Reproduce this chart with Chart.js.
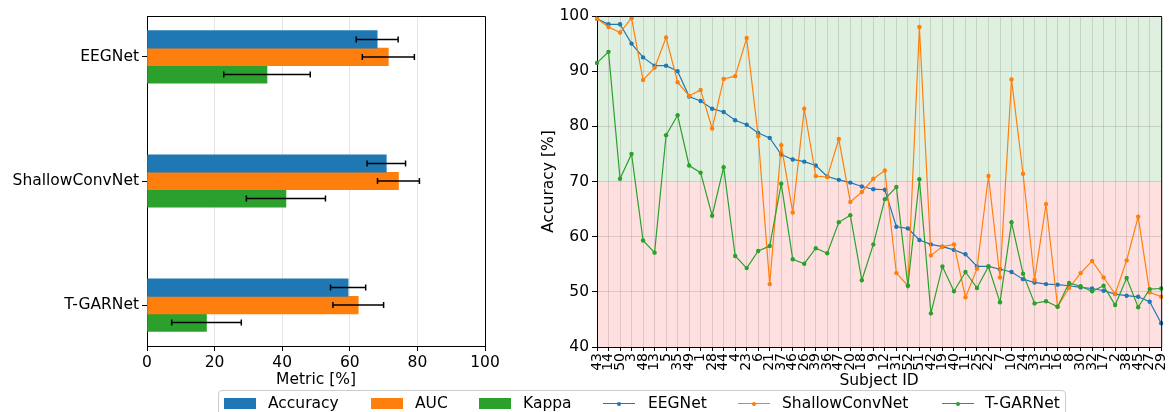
<!DOCTYPE html>
<html>
<head>
<meta charset="utf-8">
<script src="https://cdn.jsdelivr.net/npm/chart.js@4/dist/chart.umd.min.js"></script>
<style>
html, body { margin: 0; padding: 0; background: #fff; width: 1170px; height: 412px; overflow: hidden; }
#left { position: absolute; left: 0; top: 0; width: 540px; height: 392px; }
#right { position: absolute; left: 536px; top: 0; width: 644px; height: 392px; }
#legend { position: absolute; left: 218px; top: 390px; width: 846px; height: 40px;
  border: 1px solid #ccc; border-radius: 4px; font-family: 'DejaVu Sans'; font-size: 15.5px; }
#legend .t { position: absolute; top: 3px; line-height: 18px; color: #000; white-space: nowrap; }
#legend .p { position: absolute; top: 7px; width: 32px; height: 11px; }
#legend .l { position: absolute; top: 12px; width: 32px; height: 1.2px; }
#legend .l i { position: absolute; left: 14px; top: -1.5px; width: 4px; height: 4px; border-radius: 2px; background: inherit; }
</style>
</head>
<body>
<div id="left"><canvas id="barChart"></canvas></div>
<div id="right"><canvas id="lineChart"></canvas></div>
<div id="legend">
  <span class="p" style="left:5px;background:#1f77b4"></span><span class="t" style="left:49px">Accuracy</span>
  <span class="p" style="left:152px;background:#ff7f0e"></span><span class="t" style="left:196px">AUC</span>
  <span class="p" style="left:260px;background:#2ca02c"></span><span class="t" style="left:304px">Kappa</span>
  <span class="l" style="left:384px;background:#1f77b4"><i></i></span><span class="t" style="left:429px">EEGNet</span>
  <span class="l" style="left:519px;background:#ff7f0e"><i></i></span><span class="t" style="left:563px">ShallowConvNet</span>
  <span class="l" style="left:723px;background:#2ca02c"><i></i></span><span class="t" style="left:766px">T-GARNet</span>
</div>
<script>
// Mean +- std per model (left panel)
const models = ['EEGNet', 'ShallowConvNet', 'T-GARNet'];
const accMean = [68.1, 70.8, 59.5];
const accStd = [6.2, 5.7, 5.2];
const aucMean = [71.4, 74.4, 62.5];
const aucStd = [7.7, 6.2, 7.5];
const kappaMean = [35.5, 41.1, 17.6];
const kappaStd = [12.8, 11.7, 10.3];
const metricTicks = [0, 20, 40, 60, 80, 100];

// Per-subject accuracy (right panel), sorted by EEGNet
const subjects = ['43', '14', '50', '3', '48', '13', '5', '35', '49', '1',
    '28', '44', '4', '23', '6', '21', '37', '46', '26', '39',
    '36', '47', '20', '18', '9', '12', '31', '52', '51', '42',
    '19', '40', '11', '25', '22', '7', '10', '24', '33', '15',
    '16', '8', '30', '32', '17', '2', '38', '45', '27', '29'];
const eegnet = [99.5, 98.5, 98.5, 95.0, 92.5, 91.0, 91.0, 90.0, 85.4, 84.6,
    83.2, 82.6, 81.1, 80.3, 78.8, 77.9, 74.9, 74.0, 73.6, 72.9,
    70.9, 70.3, 69.8, 69.1, 68.6, 68.5, 61.8, 61.5, 59.4, 58.6,
    58.2, 57.6, 56.8, 54.6, 54.6, 54.1, 53.6, 52.3, 51.7, 51.4,
    51.3, 51.1, 50.8, 50.6, 50.2, 49.6, 49.3, 49.1, 48.2, 44.3];
const shallow = [99.5, 98.0, 97.0, 99.6, 88.4, 90.6, 96.1, 88.0, 85.5, 86.6,
    79.6, 88.6, 89.1, 96.0, 78.2, 51.4, 76.6, 64.4, 83.2, 71.0,
    70.8, 77.7, 66.3, 68.1, 70.5, 72.0, 53.4, 51.1, 98.0, 56.6,
    58.2, 58.6, 49.0, 54.2, 71.0, 52.6, 88.5, 71.4, 52.2, 65.9,
    47.3, 50.7, 53.4, 55.6, 52.6, 49.6, 55.7, 63.6, 49.9, 49.1];
const tgarnet = [91.5, 93.5, 70.5, 75.0, 59.3, 57.1, 78.4, 82.0, 72.9, 71.6,
    63.8, 72.6, 56.5, 54.3, 57.4, 58.3, 69.6, 55.9, 55.1, 57.9,
    57.0, 62.6, 63.9, 52.1, 58.6, 66.8, 69.0, 51.1, 70.4, 46.1,
    54.6, 50.1, 53.6, 50.7, 54.6, 48.1, 62.6, 53.3, 47.9, 48.3,
    47.3, 51.6, 51.0, 50.1, 51.1, 47.6, 52.5, 47.2, 50.5, 50.6];
const accTicks = [40, 50, 60, 70, 80, 90, 100];
const passLine = 70;

Chart.defaults.font.family = 'DejaVu Sans';
Chart.defaults.font.size = 15.5;
Chart.defaults.color = '#000';

const font = { family: 'DejaVu Sans', size: 15.5 };

// top/right spines like matplotlib
const frame = {
    id: 'frame',
    afterDraw(chart) {
        const { ctx, chartArea: a } = chart;
        ctx.save();
        ctx.strokeStyle = '#000';
        ctx.lineWidth = 1;
        ctx.beginPath();
        ctx.moveTo(a.left, a.top + 0.5);
        ctx.lineTo(a.right + 0.5, a.top + 0.5);
        ctx.lineTo(a.right + 0.5, a.bottom);
        ctx.stroke();
        ctx.restore();
    }
};

const errorBars = {
    id: 'errorBars',
    afterDatasetsDraw(chart) {
        const { ctx, scales: { x } } = chart;
        ctx.save();
        ctx.strokeStyle = '#000';
        ctx.lineWidth = 1.5;
        chart.data.datasets.forEach((ds, d) => {
            chart.getDatasetMeta(d).data.forEach((bar, i) => {
                const v = ds.data[i].x, s = ds.std[i];
                const x0 = x.getPixelForValue(v - s), x1 = x.getPixelForValue(v + s);
                ctx.beginPath();
                ctx.moveTo(x0, bar.y); ctx.lineTo(x1, bar.y);
                ctx.moveTo(x0, bar.y - 3); ctx.lineTo(x0, bar.y + 3);
                ctx.moveTo(x1, bar.y - 3); ctx.lineTo(x1, bar.y + 3);
                ctx.stroke();
            });
        });
        ctx.restore();
    }
};

const bands = {
    id: 'bands',
    beforeDraw(chart) {
        const { ctx, chartArea: a, scales: { y } } = chart;
        const yp = y.getPixelForValue(passLine);
        ctx.save();
        ctx.fillStyle = 'rgba(0,128,0,0.12)';
        ctx.fillRect(a.left, a.top, a.right - a.left, yp - a.top);
        ctx.fillStyle = 'rgba(255,0,0,0.12)';
        ctx.fillRect(a.left, yp, a.right - a.left, a.bottom - yp);
        ctx.restore();
    }
};

const toPoints = arr => arr.map((v, i) => ({ x: v, y: i }));
const setModelRange = s => { s.min = -0.33; s.max = models.length - 1 + 0.33; };

new Chart(document.getElementById('barChart'), {
    type: 'bar',
    data: {
        datasets: [
            { label: 'Accuracy', data: toPoints(accMean), std: accStd, backgroundColor: '#1f77b4' },
            { label: 'AUC', data: toPoints(aucMean), std: aucStd, backgroundColor: '#ff7f0e' },
            { label: 'Kappa', data: toPoints(kappaMean), std: kappaStd, backgroundColor: '#2ca02c' }
        ]
    },
    options: {
        indexAxis: 'y',
        responsive: true,
        maintainAspectRatio: false,
        animation: false,
        layout: { padding: { top: 16, right: 55, left: 0, bottom: 0 } },
        datasets: { bar: { barThickness: 17.5 } },
        plugins: { legend: { display: false }, tooltip: { enabled: false } },
        scales: {
            x: {
                type: 'linear', min: 0, max: 100,
                afterBuildTicks: s => { s.ticks = metricTicks.map(v => ({ value: v })); },
                ticks: { font, color: '#000', padding: 3 },
                grid: { color: 'rgba(0,0,0,0.1)', tickColor: '#000', tickLength: 5 },
                border: { color: '#000' },
                title: { display: true, text: 'Metric [%]', font, color: '#000', padding: { top: 0, bottom: 3 } },
                afterFit: s => { s.height = 46; }
            },
            y: {
                type: 'linear', reverse: true, offset: false,
                afterDataLimits: setModelRange,
                afterBuildTicks: s => {
                    s.ticks = models.map((m, i) => ({ value: i }));
                    setModelRange(s);
                },
                ticks: { font, color: '#000', padding: 3, callback: v => models[v] },
                grid: { offset: false, drawOnChartArea: false, tickColor: '#000', tickLength: 5 },
                border: { color: '#000' },
                afterFit: s => { s.width = 147; }
            }
        }
    },
    plugins: [errorBars, frame]
});

const lineStyle = c => ({
    borderColor: c, backgroundColor: c, borderWidth: 1.2,
    pointRadius: 2.2, pointBorderWidth: 0, pointHoverRadius: 2.2, tension: 0
});

new Chart(document.getElementById('lineChart'), {
    type: 'line',
    data: {
        labels: subjects,
        datasets: [
            { label: 'EEGNet', data: eegnet, order: 3, ...lineStyle('#1f77b4') },
            { label: 'ShallowConvNet', data: shallow, order: 2, ...lineStyle('#ff7f0e') },
            { label: 'T-GARNet', data: tgarnet, order: 1, ...lineStyle('#2ca02c') }
        ]
    },
    options: {
        responsive: true,
        maintainAspectRatio: false,
        animation: false,
        layout: { padding: { top: 16, right: 10, left: 0, bottom: 0 } },
        plugins: { legend: { display: false }, tooltip: { enabled: false } },
        scales: {
            x: {
                offset: false,
                ticks: { font: { family: 'DejaVu Sans', size: 14 }, color: '#000', autoSkip: false,
                    maxRotation: 90, minRotation: 90, padding: 2 },
                grid: { color: 'rgba(0,0,0,0.12)', tickColor: '#000', tickLength: 4 },
                border: { color: '#000' },
                title: { display: true, text: 'Subject ID', font, color: '#000', padding: { top: 0, bottom: 2 } },
                afterFit: s => { s.height = 45; }
            },
            y: {
                min: 40, max: 100,
                afterBuildTicks: s => { s.ticks = accTicks.map(v => ({ value: v })); },
                ticks: { font, color: '#000', padding: 3 },
                grid: { color: 'rgba(0,0,0,0.12)', tickColor: '#000', tickLength: 5 },
                border: { color: '#000' },
                title: { display: true, text: 'Accuracy [%]', font, color: '#000', padding: { top: 4, bottom: 4 } },
                afterFit: s => { s.width = 61; }
            }
        }
    },
    plugins: [bands, frame]
});
</script>
</body>
</html>
